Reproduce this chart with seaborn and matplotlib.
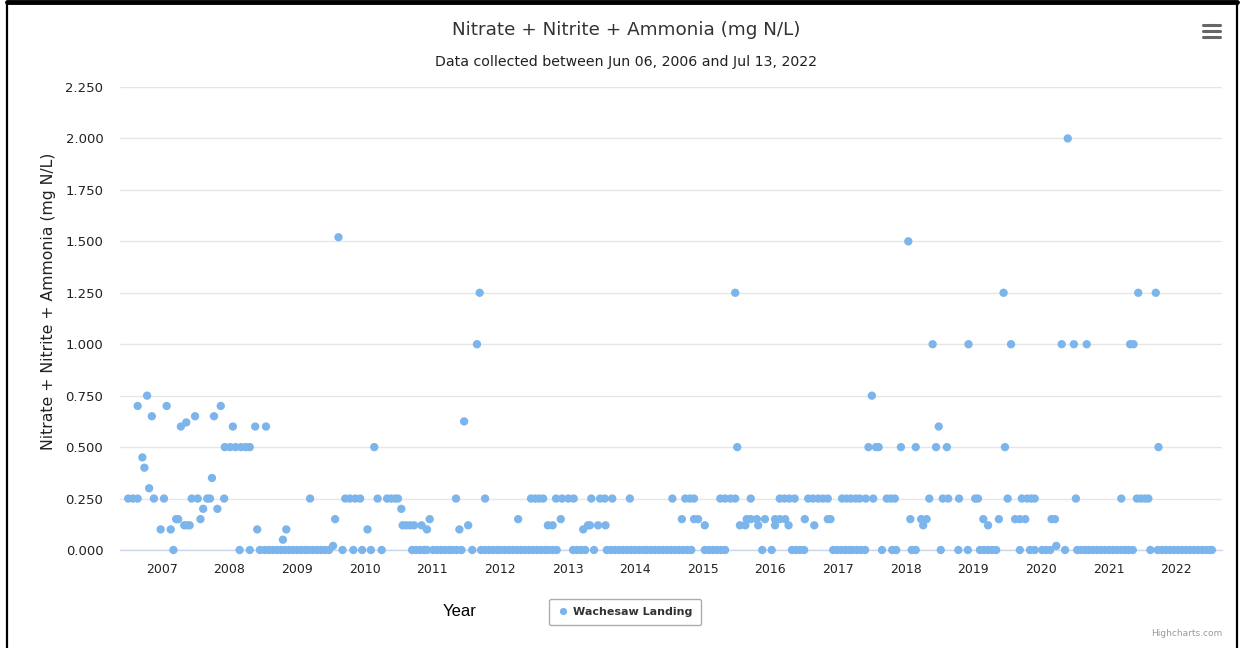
import numpy as np
import pandas as pd
import matplotlib
matplotlib.use("Agg")
import matplotlib.pyplot as plt
from matplotlib.lines import Line2D
from matplotlib.ticker import FormatStrFormatter
import seaborn as sns

# ---------------- data (sample dates as decimal years) ----------------
TITLE = "Nitrate + Nitrite + Ammonia (mg N/L)"
SUBTITLE = "Data collected between Jun 06, 2006 and Jul 13, 2022"
Y_LABEL = "Nitrate + Nitrite + Ammonia (mg N/L)"
X_LABEL = "Year"
SERIES = "Wachesaw Landing"
YEAR_TICKS = list(range(2007, 2023))

years_000 = [2007.17, 2008.15, 2008.30, 2008.45, 2008.52, 2008.58, 2008.64, 2008.70, 2008.76,
             2008.82, 2008.88, 2008.94, 2009.00, 2009.06, 2009.12, 2009.17, 2009.23, 2009.29,
             2009.35, 2009.41, 2009.47, 2009.67, 2009.83, 2009.96, 2010.09, 2010.25, 2010.70,
             2010.76, 2010.82, 2010.88, 2010.92, 2011.01, 2011.07, 2011.13, 2011.19, 2011.25,
             2011.30, 2011.36, 2011.43, 2011.59, 2011.72, 2011.78, 2011.84, 2011.90, 2011.96,
             2012.01, 2012.07, 2012.13, 2012.19, 2012.25, 2012.31, 2012.37, 2012.43, 2012.49,
             2012.55, 2012.61, 2012.67, 2012.72, 2012.78, 2012.84, 2013.08, 2013.14, 2013.20,
             2013.26, 2013.39, 2013.58, 2013.64, 2013.70, 2013.76, 2013.82, 2013.88, 2013.94,
             2014.00, 2014.06, 2014.12, 2014.17, 2014.23, 2014.29, 2014.35, 2014.41, 2014.47,
             2014.53, 2014.59, 2014.65, 2014.71, 2014.77, 2014.83, 2015.03, 2015.09, 2015.15,
             2015.21, 2015.27, 2015.33, 2015.88, 2016.02, 2016.32, 2016.38, 2016.44, 2016.50,
             2016.93, 2016.99, 2017.05, 2017.11, 2017.17, 2017.22, 2017.28, 2017.34, 2017.40,
             2017.65, 2017.80, 2017.86, 2018.09, 2018.15, 2018.52, 2018.78, 2018.92, 2019.10,
             2019.16, 2019.22, 2019.28, 2019.34, 2019.69, 2019.84, 2019.91, 2020.02, 2020.08,
             2020.14, 2020.36, 2020.54, 2020.60, 2020.66, 2020.71, 2020.77, 2020.83, 2020.89,
             2020.95, 2021.01, 2021.07, 2021.13, 2021.19, 2021.25, 2021.30, 2021.36, 2021.62,
             2021.73, 2021.79, 2021.85, 2021.91, 2021.97, 2022.03, 2022.09, 2022.15, 2022.21,
             2022.27, 2022.33, 2022.39, 2022.45, 2022.50, 2022.53]

years_010 = [2006.98, 2007.13, 2008.41, 2008.84, 2010.04, 2010.92, 2011.40, 2013.23]

years_012 = [2007.33, 2007.37, 2007.41, 2010.56, 2010.61, 2010.67, 2010.73, 2010.84, 2011.53,
             2012.71, 2012.78, 2013.30, 2013.33, 2013.45, 2013.56, 2015.03, 2015.55, 2015.63,
             2015.82, 2016.07, 2016.27, 2016.65, 2018.26, 2019.22]

years_015 = [2007.21, 2007.24, 2007.57, 2009.56, 2010.96, 2012.27, 2012.90, 2014.69, 2014.87,
             2014.93, 2015.65, 2015.71, 2015.80, 2015.92, 2016.07, 2016.14, 2016.22, 2016.51,
             2016.85, 2016.89, 2018.07, 2018.23, 2018.31, 2019.15, 2019.38, 2019.62, 2019.69,
             2019.77, 2020.16, 2020.21]

years_020 = [2007.61, 2007.82, 2010.54]

years_025 = [2006.50, 2006.57, 2006.64, 2006.88, 2007.03, 2007.44, 2007.53, 2007.67, 2007.71,
             2007.92, 2009.19, 2009.71, 2009.78, 2009.86, 2009.93, 2010.19, 2010.33, 2010.39,
             2010.45, 2010.49, 2011.35, 2011.78, 2012.46, 2012.52, 2012.58, 2012.64, 2012.83,
             2012.92, 2013.01, 2013.09, 2013.35, 2013.48, 2013.55, 2013.66, 2013.92, 2014.55,
             2014.74, 2014.81, 2014.87, 2015.26, 2015.33, 2015.41, 2015.48, 2015.71, 2016.14,
             2016.21, 2016.28, 2016.36, 2016.56, 2016.63, 2016.71, 2016.78, 2016.85, 2017.06,
             2017.13, 2017.19, 2017.26, 2017.32, 2017.41, 2017.52, 2017.72, 2017.78, 2017.84,
             2018.35, 2018.55, 2018.63, 2018.79, 2019.03, 2019.07, 2019.51, 2019.72, 2019.80,
             2019.86, 2019.91, 2020.52, 2021.19, 2021.42, 2021.48, 2021.54, 2021.59]

years_050 = [2007.93, 2008.01, 2008.09, 2008.17, 2008.24, 2008.30, 2010.14, 2015.51, 2017.45,
             2017.56, 2017.60, 2017.93, 2018.15, 2018.45, 2018.61, 2019.47, 2021.74]

years_060 = [2007.28, 2008.05, 2008.38, 2008.54, 2018.49]
years_065 = [2006.85, 2007.49, 2007.77]
years_070 = [2006.64, 2007.07, 2007.87]
years_075 = [2006.78, 2017.50]
years_100 = [2011.66, 2018.40, 2018.93, 2019.56, 2020.31, 2020.49, 2020.68, 2021.32, 2021.37]
years_125 = [2011.70, 2015.48, 2019.45, 2021.44, 2021.70]

other_years = [2006.71, 2006.74, 2006.81, 2007.74, 2007.36, 2011.47, 2008.79, 2009.53, 2020.23,
               2009.61, 2018.04, 2020.40]
other_values = [0.45, 0.40, 0.30, 0.35, 0.62, 0.625, 0.05, 0.02, 0.02,
                1.52, 1.50, 2.00]

# ---------------- assemble ----------------
levels = [(0.0, years_000), (0.10, years_010), (0.12, years_012), (0.15, years_015),
          (0.20, years_020), (0.25, years_025), (0.50, years_050), (0.60, years_060),
          (0.65, years_065), (0.70, years_070), (0.75, years_075), (1.00, years_100),
          (1.25, years_125)]
dec_years, vals = [], []
for v, ys in levels:
    dec_years += ys
    vals += [v] * len(ys)
dec_years += other_years
vals += other_values


def to_dt(y):
    yr = int(np.floor(y))
    return pd.Timestamp(yr, 1, 1) + pd.Timedelta(days=(y - yr) * 365.25)


df = pd.DataFrame({"date": [to_dt(y) for y in dec_years], "value": vals})
df = df.sort_values("date")

# ---------------- figure ----------------
sns.set_style("white")
plt.rcParams["font.family"] = ["DejaVu Sans"]

W, H = 1245, 648
fig = plt.figure(figsize=(W / 100, H / 100), dpi=100)
fig.patch.set_facecolor("white")


def fx(px):
    return px / W


def fy(py):
    return 1 - py / H


ax = fig.add_axes([fx(120), fy(550), fx(1222) - fx(120), fy(87) - fy(550)])

POINT_COLOR = "#7cb5ec"
sns.scatterplot(data=df, x="date", y="value", ax=ax, color=POINT_COLOR, s=36,
                edgecolor="none", linewidth=0, legend=False, zorder=3, clip_on=False)

ax.set_xlim(to_dt(2006.379), to_dt(2022.68))
ax.set_ylim(0, 2.25)
ax.set_yticks(np.arange(0, 2.2501, 0.25))
ax.yaxis.set_major_formatter(FormatStrFormatter("%.3f"))
ax.set_xticks([pd.Timestamp(y, 1, 1) for y in YEAR_TICKS])
ax.set_xticklabels([str(y) for y in YEAR_TICKS])

ax.grid(False)
ax.yaxis.grid(True, color="#e6e6e6", linewidth=1)
ax.set_axisbelow(True)
for s in ["left", "right", "top"]:
    ax.spines[s].set_visible(False)
ax.spines["bottom"].set_color("#ccd6eb")
ax.spines["bottom"].set_linewidth(1)
ax.tick_params(axis="x", direction="out", length=10 * 0.72, width=1, color="#ccd6eb",
               labelsize=9, labelcolor="#222222", pad=2)
ax.tick_params(axis="y", length=0, labelsize=9.5, labelcolor="#222222", pad=12)
ax.set_xlabel("")
ax.set_ylabel("")

# titles and labels
fig.text(fx(626), fy(30), TITLE, ha="center", va="center", fontsize=13.2, color="#333333")
fig.text(fx(626), fy(62), SUBTITLE, ha="center", va="center", fontsize=10.2, color="#222222")
fig.text(fx(48), fy(301), Y_LABEL, ha="center", va="center", rotation=90, fontsize=11.3,
         color="#222222")
fig.text(fx(460), fy(611), X_LABEL, ha="center", va="center", fontsize=12, color="black",
         family="Liberation Sans")
fig.text(fx(1222), fy(634), "Highcharts.com", ha="right", va="center", fontsize=6.5,
         color="#999999")

# legend
handle = Line2D([], [], marker="o", linestyle="none", markersize=5.2,
                markerfacecolor=POINT_COLOR, markeredgecolor="none")
leg = fig.legend([handle], [SERIES], loc="center", bbox_to_anchor=(fx(625), fy(612)),
                 frameon=True, fancybox=True, handletextpad=0.5,
                 borderpad=0.75, handlelength=0.9, prop={"weight": "bold", "size": 8})
leg.get_frame().set_edgecolor("#999999")
leg.get_frame().set_linewidth(1)
for t in leg.get_texts():
    t.set_color("#333333")

# context menu icon
for py in (25, 31, 37):
    fig.add_artist(Line2D([fx(1203), fx(1220)], [fy(py), fy(py)], color="#666666",
                          linewidth=2.2, solid_capstyle="round"))

# outer frame
fig.add_artist(Line2D([fx(7), fx(7)], [0, fy(2)], color="black", linewidth=1.6))
fig.add_artist(Line2D([fx(1237), fx(1237)], [0, fy(2)], color="black", linewidth=1.6))
fig.add_artist(Line2D([fx(7), fx(1237)], [fy(2), fy(2)], color="black", linewidth=3.5))

fig.savefig("out.png", dpi=100, facecolor="white")
